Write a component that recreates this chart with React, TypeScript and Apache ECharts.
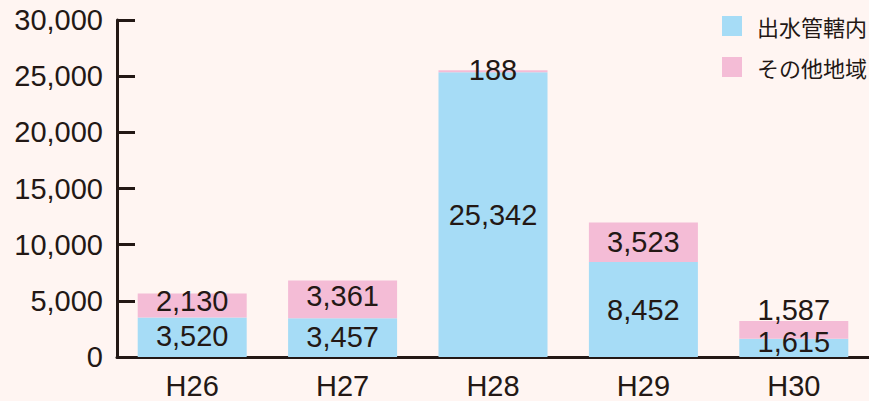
import React, { useEffect, useRef } from "react";
import * as echarts from "echarts";

const categories = ["H26", "H27", "H28", "H29", "H30"];
const inside = [3520, 3457, 25342, 8452, 1615];
const other = [2130, 3361, 188, 3523, 1587];
const yTicks = [0, 5000, 10000, 15000, 20000, 25000, 30000];
const seriesNames = ["出水管轄内", "その他地域"];

const insideOffsets: number[][] = [[0, -1], [0, -1], [0, 0], [0, 0], [0, -6]];
const otherOffsets: number[][] = [[0, -4], [0, -3], [0, -1], [0, 0], [0, -20]];

const TEXT = "#231815";
const FONT = "'Liberation Sans', Arial, Helvetica, sans-serif";

export default function App() {
  const ref = useRef<HTMLDivElement>(null);
  useEffect(() => {
    if (!ref.current) return;
    const chart = echarts.init(ref.current, undefined, { renderer: "svg" });
    const label = {
      show: true,
      position: "inside",
      color: TEXT,
      fontSize: 29,
      fontFamily: FONT,
      formatter: (p: any) => Number(p.value).toLocaleString("en-US"),
    };
    chart.setOption({
      animation: false,
      backgroundColor: "#fff5f2",
      textStyle: { fontFamily: FONT },
      grid: { left: 117, right: 0, top: 20, bottom: 44, containLabel: false },
      legend: {
        left: 717,
        top: 10,
        orient: "vertical",
        itemWidth: 20,
        itemHeight: 20,
        itemGap: 19,
        icon: "rect",
        textStyle: {
          fontSize: 22,
          color: TEXT,
          fontFamily: "'Noto Sans CJK JP', sans-serif",
          padding: [0, 0, 0, 10],
        },
        data: seriesNames,
      },
      xAxis: {
        type: "category",
        data: categories,
        axisLine: { lineStyle: { color: TEXT, width: 3 } },
        axisTick: { inside: true, length: 7, lineStyle: { color: TEXT, width: 2 } },
        axisLabel: { color: TEXT, fontSize: 29, fontFamily: FONT, margin: 14 },
      },
      yAxis: {
        type: "value",
        min: yTicks[0],
        max: yTicks[yTicks.length - 1],
        interval: yTicks[1] - yTicks[0],
        axisLine: { show: true, lineStyle: { color: TEXT, width: 3 } },
        axisTick: { show: true, inside: true, length: 18, lineStyle: { color: TEXT, width: 3 } },
        splitLine: { show: false },
        axisLabel: {
          color: TEXT,
          fontSize: 29,
          fontFamily: FONT,
          margin: 14,
          formatter: (v: number) => v.toLocaleString("en-US"),
        },
      },
      series: [
        {
          name: seriesNames[0],
          type: "bar",
          stack: "total",
          barWidth: 109,
          itemStyle: { color: "#a6dcf6" },
          label,
          data: inside.map((v, i) => ({ value: v, label: { offset: insideOffsets[i] } })),
        },
        {
          name: seriesNames[1],
          type: "bar",
          stack: "total",
          barWidth: 109,
          itemStyle: { color: "#f4bcd6" },
          label,
          data: other.map((v, i) => ({ value: v, label: { offset: otherOffsets[i] } })),
        },
      ],
    });
    return () => chart.dispose();
  }, []);
  return (
    <div
      ref={ref}
      style={{ position: "fixed", left: 0, top: 0, width: 869, height: 401 }}
    />
  );
}
